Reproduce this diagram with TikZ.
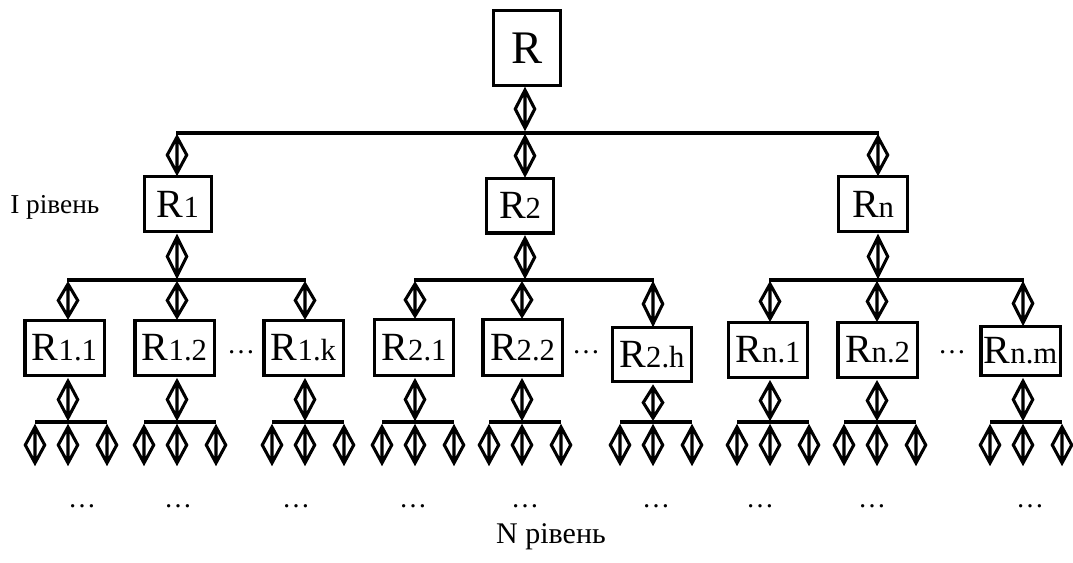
\documentclass[tikz,border=0pt]{standalone}
\usepackage{fontspec}
\setmainfont{Liberation Serif}
\usetikzlibrary{calc}
\newcommand{\bigR}{\fontsize{30}{30}\selectfont R}
\newcommand{\subR}[1]{{\bigR}{\fontsize{23}{23}\selectfont #1}}
\tikzset{
  lvl/.style={draw, line width=2.5pt, inner sep=0pt, minimum width=50.5pt, minimum height=41pt},
  bus/.style={line width=2.5pt},
  dia/.style={line width=2.3pt, to path={
    ($(\tikztostart)+(0pt,-1.5pt)$) coordinate (ds)
    -- ($(\tikztostart)!0.5!(\tikztotarget)+(7.3pt,0pt)$)
    -- ($(\tikztotarget)+(0pt,1.5pt)$) coordinate (de)
    -- ($(\tikztostart)!0.5!(\tikztotarget)+(-7.3pt,0pt)$) -- cycle
    (ds) -- (de)}},
  lbl/.style={font=\fontsize{21}{21}\selectfont, inner sep=0pt}
}
\begin{document}
\begin{tikzpicture}[x=0.75pt,y=-0.75pt]
\useasboundingbox (0,0) rectangle (1073,563);
% top
\node[draw, line width=2.5pt, inner sep=0pt, minimum width=50pt, minimum height=56pt] (R) at (527,48) {\fontsize{35}{35}\selectfont R};
% level 1
\node[lvl] (R1) at (178,204) {\subR{1}};
\node[lvl] (R2) at (520,205.5) {\subR{2}};
\node[lvl, minimum width=52pt] (Rn) at (873,204) {\subR{n}};
% level 2
\foreach \nm/\cx/\cy/\h/\t in {a1/64.5/348/58/1.1, a2/174.5/348/58/1.2, a3/303.5/348/58/1.k,
   b1/414/347.5/59/2.1, b2/522.5/347.5/59/2.2, b3/652/354.5/57/2.h,
   c1/768/350/58/n.1, c2/877.5/350/58/n.2, c3/1020.5/351/52/n.m}{
  \node[draw, line width=2.5pt, inner sep=0pt, minimum width=59.5pt, minimum height={(\h-3)*0.75pt}] (\nm) at (\cx,\cy) {\subR{\t}};
}
% top bus
\coordinate (tL) at (176,133);
\coordinate (tR) at (879,133);
\coordinate (tC) at (525,130);
\coordinate (tS) at (525,88);
\draw[bus] (tL) -- (tR);
\draw[dia] (tS) to (tC);
\foreach \cx/\bx in {177/R1,525/R2,878/Rn}{
  \coordinate (px) at (\cx,0);
  \coordinate (pt) at (px |- \bx.north);
  \coordinate (pb) at ($(px |- \bx.south)+(0,2)$);
  \coordinate (qa) at (\cx,135);
  \coordinate (qb) at (\cx,278);
  \draw[dia] (qa) to (pt);
  \draw[dia] (pb) to (qb);
}
% level-1 buses
\draw[bus] (67,280) -- (306,280);
\draw[bus] (414,280) -- (654,280);
\draw[bus] (769,280) -- (1024,280);
\foreach \cx/\bx in {68/a1,177/a2,305/a3,415/b1,522/b2,653/b3,770/c1,877/c2,1023/c3}{
  \coordinate (px) at (\cx,0);
  \coordinate (pt) at (px |- \bx.north);
  \coordinate (pb) at ($(px |- \bx.south)+(0,2)$);
  \coordinate (qa) at (\cx,282);
  \coordinate (qb) at (\cx,420);
  \draw[dia] (qa) to (pt);
  \draw[dia] (pb) to (qb);
  \draw[bus] (\cx-33,422) -- (\cx+39,422);
  \foreach \dd in {-33,0,39}{
    \coordinate (ra) at (\cx+\dd,425);
    \coordinate (rb) at (\cx+\dd,465);
    \draw[dia] (ra) to (rb);
  }
}
% dots between boxes
\foreach \cx/\nm in {241/d1,586/d2,952/d3}{
  \node[lbl, anchor=base] (\nm) at (\cx,353) {…};
}
% bottom dots
\foreach \cx/\nm in {82/e1,178/e2,296/e3,413/e4,525/e5,656/e6,760/e7,872/e8,1030/e9}{
  \node[lbl, anchor=base] (\nm) at (\cx,507) {…};
}
\node[lbl, font=\fontsize{20.5}{20.5}\selectfont, anchor=base west] (I) at (10,213) {I рівень};
\node[lbl, font=\fontsize{22.5}{22.5}\selectfont, anchor=base] (N) at (551,543) {N рівень};
\end{tikzpicture}
\end{document}
